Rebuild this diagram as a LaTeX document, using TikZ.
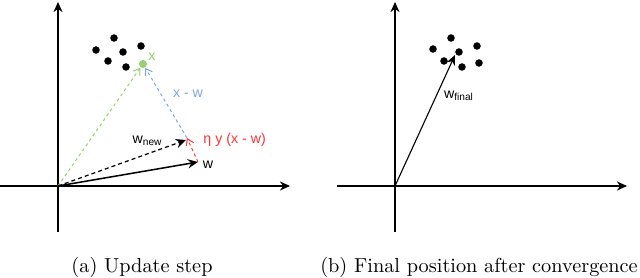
\documentclass[tikz,border=0pt]{standalone}
\usepackage{fontspec}
\newfontfamily\diagfont{Liberation Sans}
\usetikzlibrary{arrows.meta}
\definecolor{dgreen}{RGB}{151,208,119}
\definecolor{dblue}{RGB}{126,166,224}
\definecolor{dred}{RGB}{255,51,51}
\begin{document}
\begin{tikzpicture}[x=0.4926pt,y=-0.4926pt,
  axis/.style={line width=0.55pt,-{Stealth[length=5pt,width=4.5pt]}},
  vecsolid/.style={line width=0.75pt,-{Stealth[length=5pt,width=4.5pt]}},
  vecdash/.style={line width=0.6pt,dashed,dash pattern=on 2pt off 1.5pt,-{Stealth[length=5pt,width=4.5pt]}},
  vecopen/.style={line width=0.5pt,dash pattern=on 1.5pt off 1.5pt,-{Straight Barb[length=3pt,width=4pt]}},
  pt/.style={circle,fill=black,inner sep=0pt,minimum size=3.7pt},
  lbl/.style={font=\diagfont\fontsize{7}{8}\selectfont,inner sep=1pt},
  captext/.style={font=\fontsize{10}{12}\selectfont,inner sep=0pt}]
\useasboundingbox (0,0) rectangle (640,278);
% ---------- left panel ----------
\coordinate (oa) at (58,186);
\coordinate (xa0) at (0,186);
\coordinate (xa1) at (290,186);
\coordinate (ya0) at (58,232);
\coordinate (ya1) at (58,2);
\draw[axis] (xa0) -- (xa1);
\draw[axis] (ya0) -- (ya1);
\node[pt] (p1) at (96,50) {};
\node[pt] (p2) at (114,38) {};
\node[pt] (p3) at (123,52) {};
\node[pt] (p4) at (141,46) {};
\node[pt] (p5) at (108,61) {};
\node[pt] (p6) at (126,67) {};
\node[circle,fill=dgreen,inner sep=0pt,minimum size=4pt] (gx) at (143,64) {};
\node[lbl,text=dgreen] (lx) at (152,57) {x};
\coordinate (wt) at (198,162);
\coordinate (wn) at (186,140);
\coordinate (rt) at (187,138);
\draw[vecopen,draw=dgreen] (oa) -- (gx);
\draw[vecopen,draw=dblue] (rt) -- (gx);
\draw[vecdash] (oa) -- (wn);
\draw[vecsolid] (oa) -- (wt);
\draw[vecopen,draw=dred] (wt) -- (rt);
\node[lbl] (lw) at (208,165) {w};
\node[lbl,anchor=east] (lwn) at (165,141) {w\textsubscript{new}};
\node[lbl,text=dblue] (lxw) at (188,94) {x - w};
\node[lbl,text=dred,anchor=west] (leta) at (201,140) {η y (x - w)};
\node[captext] (ca) at (142,267) {(a) Update step};
% ---------- right panel ----------
\coordinate (ob) at (395,186);
\coordinate (xb0) at (337,186);
\coordinate (xb1) at (627,186);
\coordinate (yb0) at (395,232);
\coordinate (yb1) at (395,2);
\draw[axis] (xb0) -- (xb1);
\draw[axis] (yb0) -- (yb1);
\node[pt] (q1) at (433,49) {};
\node[pt] (q2) at (451,38) {};
\node[pt] (q3) at (459,52) {};
\node[pt] (q4) at (477,46) {};
\node[pt] (q5) at (444,61) {};
\node[pt] (q6) at (462,67) {};
\node[pt] (q7) at (479,63) {};
\coordinate (wf) at (455,55);
\draw[vecsolid,line width=0.55pt] (ob) -- (wf);
\node[lbl] (lwf) at (459,96) {w\textsubscript{final}};
\node[captext] (cb) at (479,267) {(b) Final position after convergence};
\end{tikzpicture}
\end{document}
